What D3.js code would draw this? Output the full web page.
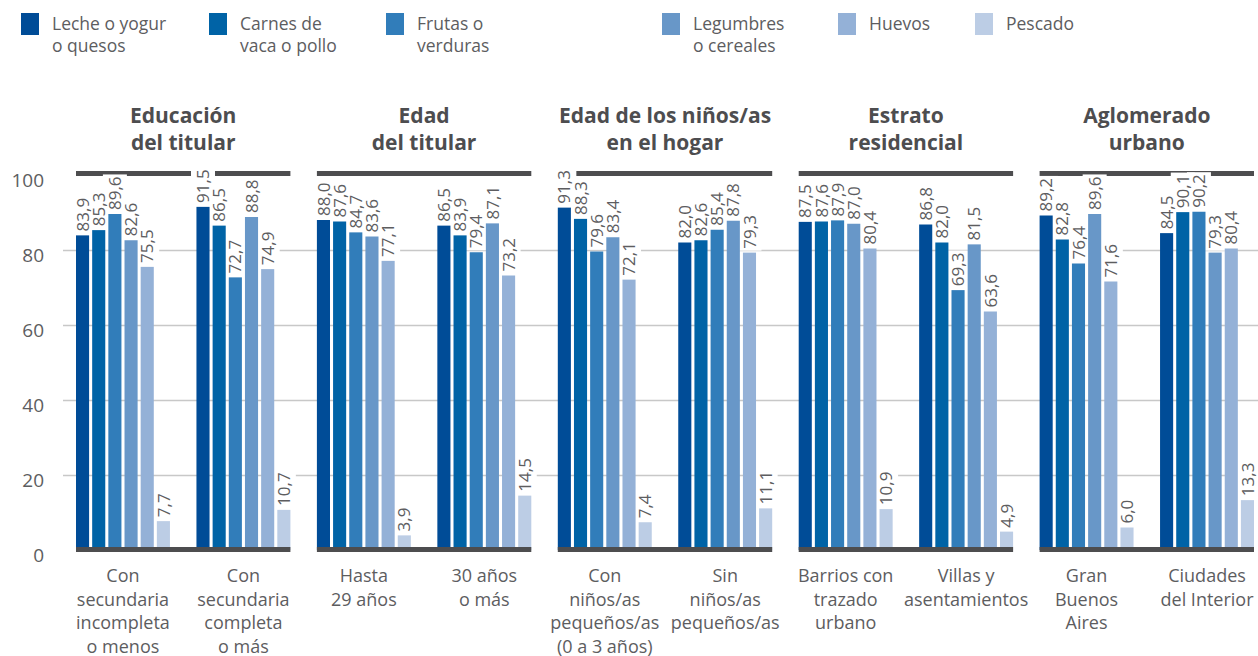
<!DOCTYPE html>
<html>
<head>
<meta charset="utf-8">
<script src="https://cdn.jsdelivr.net/npm/d3@7"></script>
<style>
  body { margin: 0; background: #fff; }
  svg { display: block; }
  text { font-family: "Open Sans", "Noto Sans", sans-serif; }
</style>
</head>
<body>
<div id="chart"></div>
<script>
// series (legend order)
const seriesNames = [
  ["Leche o yogur", "o quesos"],
  ["Carnes de", "vaca o pollo"],
  ["Frutas o", "verduras"],
  ["Legumbres", "o cereales"],
  ["Huevos"],
  ["Pescado"]
]
const seriesColors = ["#004c97", "#0063a6", "#317dba", "#6897c8", "#94b1d7", "#bccde5"]

// groups of two categories each
const groupTitles = [
  ["Educación", "del titular"],
  ["Edad", "del titular"],
  ["Edad de los niños/as", "en el hogar"],
  ["Estrato", "residencial"],
  ["Aglomerado", "urbano"]
]
const categories = [
  ["Con", "secundaria", "incompleta", "o menos"],
  ["Con", "secundaria", "completa", "o más"],
  ["Hasta", "29 años"],
  ["30 años", "o más"],
  ["Con", "niños/as", "pequeños/as", "(0 a 3 años)"],
  ["Sin", "niños/as", "pequeños/as"],
  ["Barrios con", "trazado", "urbano"],
  ["Villas y", "asentamientos"],
  ["Gran", "Buenos", "Aires"],
  ["Ciudades", "del Interior"]
]

// values per series, one per category
const leche     = [83.9, 91.5, 88.0, 86.5, 91.3, 82.0, 87.5, 86.8, 89.2, 84.5]
const carnes    = [85.3, 86.5, 87.6, 83.9, 88.3, 82.6, 87.6, 82.0, 82.8, 90.1]
const frutas    = [89.6, 72.7, 84.7, 79.4, 79.6, 85.4, 87.9, 69.3, 76.4, 90.2]
const legumbres = [82.6, 88.8, 83.6, 87.1, 83.4, 87.8, 87.0, 81.5, 89.6, 79.3]
const huevos    = [75.5, 74.9, 77.1, 73.2, 72.1, 79.3, 80.4, 63.6, 71.6, 80.4]
const pescado   = [7.7, 10.7, 3.9, 14.5, 7.4, 11.1, 10.9, 4.9, 6.0, 13.3]
const seriesValues = [leche, carnes, frutas, legumbres, huevos, pescado]

const yTicks = [0, 20, 40, 60, 80, 100]

const W = 1258, H = 656
const legendX = [21, 209, 386, 662, 838, 975]

const svg = d3.select("#chart").append("svg")
  .attr("width", W)
  .attr("height", H)

const grey = "#5d5d5f", dark = "#4d4d4f"

// scales
const y = d3.scaleLinear().domain([0, 100]).range([550, 175])
const x0 = d3.scaleBand()
  .domain(d3.range(categories.length))
  .range([76, 1254])
  .paddingInner(0.22)
  .paddingOuter(0)
const x1 = d3.scaleBand()
  .domain(d3.range(seriesNames.length))
  .range([0, x0.bandwidth()])
  .paddingInner(0.19)

// legend
const leg = svg.append("g").selectAll("g")
  .data(seriesNames)
  .enter().append("g")
  .attr("transform", (d, i) => "translate(" + legendX[i] + ",0)")
leg.append("rect")
  .attr("x", 0).attr("y", 13)
  .attr("width", 18).attr("height", 22)
  .attr("fill", (d, i) => seriesColors[i])
leg.append("text")
  .attr("fill", grey)
  .attr("font-size", "17.5px")
  .selectAll("tspan")
  .data(d => d)
  .enter().append("tspan")
  .attr("x", 31)
  .attr("y", (d, i) => 30 + i * 22)
  .text(d => d)

// gridlines
svg.append("g")
  .attr("transform", "translate(63,0)")
  .call(d3.axisLeft(y).tickValues([20, 40, 60, 80]).tickSize(-(W - 63)).tickFormat(""))
  .call(g => g.select(".domain").remove())
  .selectAll("line")
  .attr("stroke", "#c8c8c8")
  .attr("stroke-width", 1.5)

// y axis labels
svg.append("g")
  .attr("transform", "translate(44,0)")
  .call(d3.axisLeft(y).tickValues(yTicks).tickSize(0).tickPadding(0))
  .call(g => g.select(".domain").remove())
  .selectAll("text")
  .attr("fill", grey)
  .attr("font-size", "19px")
  .attr("font-family", "'Open Sans', sans-serif")
  .attr("dy", "0.62em")

// group extents
const groups = groupTitles.map((t, i) => ({
  title: t,
  x0: x0(i * 2),
  x1: x0(i * 2 + 1) + x0.bandwidth()
}))

// group titles
svg.append("g").selectAll("text")
  .data(groups)
  .enter().append("text")
  .attr("text-anchor", "middle")
  .attr("fill", dark)
  .attr("font-size", "21px")
  .attr("font-weight", "bold")
  .selectAll("tspan")
  .data(d => d.title.map(t => ({ t: t, cx: (d.x0 + d.x1) / 2 })))
  .enter().append("tspan")
  .attr("x", d => d.cx)
  .attr("y", (d, i) => 123 + i * 27)
  .text(d => d.t)

// header lines at 100
svg.append("g").selectAll("rect")
  .data(groups)
  .enter().append("rect")
  .attr("x", d => d.x0)
  .attr("y", y(100) - 4)
  .attr("width", d => d.x1 - d.x0)
  .attr("height", 5)
  .attr("fill", dark)

// bar data
const bars = []
categories.forEach((c, i) => {
  seriesValues.forEach((vals, j) => {
    bars.push({ cat: i, s: j, v: vals[i] })
  })
})

// value labels (background first, text after the bars)
const labels = svg.append("g").selectAll("g")
  .data(bars)
  .enter().append("g")
  .attr("transform", d => "translate(" + (x0(d.cat) + x1(d.s) + x1.bandwidth() / 2) + "," + (y(d.v) - 4) + ") rotate(-90)")
const labelBg = labels.append("rect").attr("fill", "#fff")

svg.append("g").selectAll("rect")
  .data(bars)
  .enter().append("rect")
  .attr("x", d => x0(d.cat) + x1(d.s))
  .attr("y", d => y(d.v))
  .attr("width", x1.bandwidth())
  .attr("height", d => y(0) - y(d.v))
  .attr("fill", d => seriesColors[d.s])

// baselines
svg.append("g").selectAll("rect")
  .data(groups)
  .enter().append("rect")
  .attr("x", d => d.x0)
  .attr("y", y(0) - 3)
  .attr("width", d => d.x1 - d.x0)
  .attr("height", 5)
  .attr("fill", dark)

const fmt = v => v.toFixed(1).replace(".", ",")
const labelText = svg.append("g").selectAll("text")
  .data(bars)
  .enter().append("text")
  .attr("transform", d => "translate(" + (x0(d.cat) + x1(d.s) + x1.bandwidth() / 2) + "," + (y(d.v) - 4) + ") rotate(-90)")
  .attr("dy", "0.36em")
  .attr("fill", grey)
  .attr("font-size", "17px")
  .text(d => fmt(d.v))

const lens = labelText.nodes().map(n => n.getComputedTextLength())
labelBg
  .attr("x", -2)
  .attr("y", -12)
  .attr("width", (d, i) => lens[i] + 4)
  .attr("height", 24)

// category labels
svg.append("g").selectAll("text")
  .data(categories)
  .enter().append("text")
  .attr("text-anchor", "middle")
  .attr("fill", grey)
  .attr("font-size", "18px")
  .each(function (d, i) {
    d3.select(this).selectAll("tspan")
      .data(d)
      .enter().append("tspan")
      .attr("x", x0(i) + x0.bandwidth() / 2)
      .attr("y", (t, k) => 582 + k * 23.5)
      .text(t => t)
  })
</script>
</body>
</html>
